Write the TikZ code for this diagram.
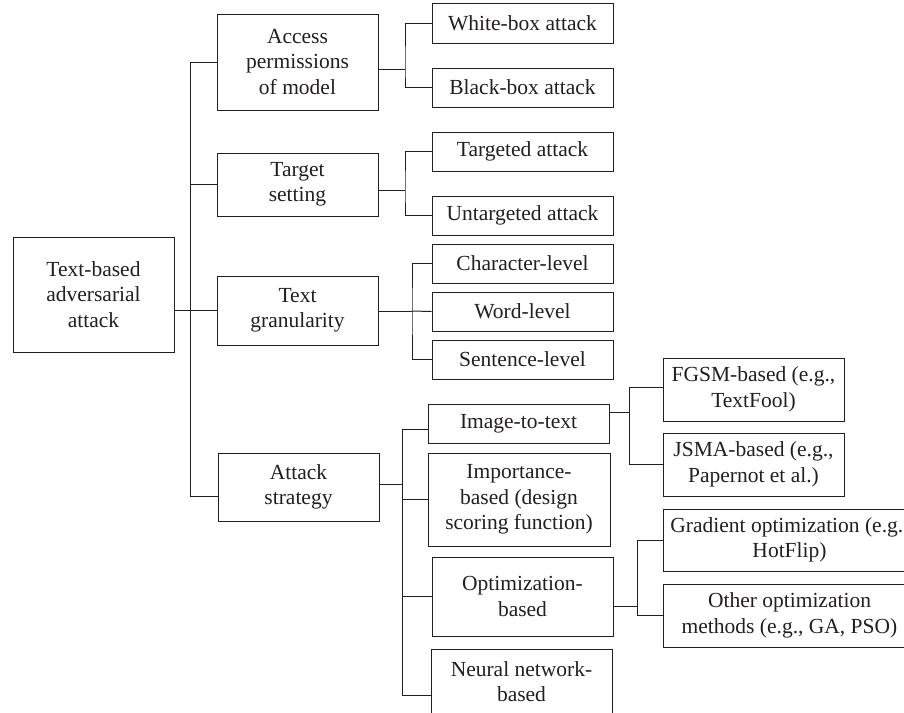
\documentclass[tikz,border=0pt]{standalone}
\usepackage{fontspec}
\setmainfont{Liberation Serif}
\definecolor{lc}{HTML}{231F20}
\newcommand{\mybox}[6]{\node[box,minimum width={#4pt-#2pt},minimum height={#5pt-#3pt}] (#1) at ({(#2+#4)/2},{(#3+#5)/2}) {#6};}
\begin{document}
\begin{tikzpicture}[x=1pt,y=-1pt,
  box/.style={draw=lc, line width=1pt, align=center, inner sep=0pt, text=lc,
    font=\fontsize{21.5}{25.5}\selectfont},
  conn/.style={draw=lc, line width=1pt}]
\useasboundingbox (0,0) rectangle (904,712);
\clip (0,0) rectangle (904,712);
\fill[white] (0,0) rectangle (904,712);
% boxes
\mybox{root}{13}{237}{174}{352}{Text-based\\adversarial\\attack}
\mybox{access}{217}{14}{378}{110}{Access\\permissions\\of model}
\mybox{tset}{217}{153}{378}{216}{Target\\setting}
\mybox{tg}{217}{276}{378}{345}{Text\\granularity}
\mybox{as}{218}{453}{379}{521}{Attack\\strategy}
\mybox{wb}{432}{3}{613}{43}{White-box attack}
\mybox{bb}{432}{68}{613}{107}{Black-box attack}
\mybox{ta}{432}{132}{613}{171}{Targeted attack}
\mybox{ua}{432}{196}{613}{235}{Untargeted attack}
\mybox{cl}{432}{244}{613}{283}{Character-level}
\mybox{wl}{432}{292}{613}{331}{Word-level}
\mybox{sl}{432}{340}{613}{379}{Sentence-level}
\mybox{it}{428}{404}{609}{443}{Image-to-text}
\mybox{imp}{428}{453}{610}{546}{Importance-\\based (design\\scoring function)}
\mybox{opt}{432}{557}{613}{636}{Optimization-\\based}
\mybox{nn}{431}{649}{612}{714}{Neural network-\\based}
\mybox{fg}{663}{358}{844}{421}{FGSM-based (e.g.,\\TextFool)}
\mybox{js}{663}{433}{844}{496}{JSMA-based (e.g.,\\Papernot et al.)}
\mybox{gr}{663}{509}{916}{571}{Gradient optimization (e.g.,\\HotFlip)}
\mybox{ot}{663}{584}{916}{647}{Other optimization\\methods (e.g., GA, PSO)}
% trunk
\coordinate (trunkTop) at (190,62);
\coordinate (trunkBot) at (190,496);
\draw[conn] (trunkTop) -- (trunkBot);
\draw[conn] (trunkTop) -- (trunkTop -| access.west);
\draw[conn] (tset.west) -- (tset.west -| trunkTop);
\draw[conn] (root.east |- tg.west) -- (tg.west);
\draw[conn] (trunkBot) -- (trunkBot -| as.west);
% access
\coordinate (a1) at (405,69);
\draw[conn] (access.east |- a1) -- (a1);
\draw[conn] (wb.west) -| (a1) |- (bb.west);
% target
\coordinate (t1) at (405,190);
\draw[conn] (tset.east |- t1) -- (t1);
\draw[conn] (ta.west) -| (t1) |- (ua.west);
% granularity
\coordinate (g1) at (412,311);
\draw[conn] (tg.east |- g1) -- (g1);
\draw[conn] (cl.west) -| (g1) |- (sl.west);
\draw[conn] (g1) -- (wl.west);
% strategy
\coordinate (s1) at (402,484);
\coordinate (s0) at (402,429);
\coordinate (s5) at (402,695);
\draw[conn] (as.east |- s1) -- (s1);
\draw[conn] (s0) -- (s5);
\draw[conn] (s0) -- (s0 -| it.west);
\draw[conn] (imp.west) -- (imp.west -| s0);
\draw[conn] (opt.west) -- (opt.west -| s0);
\draw[conn] (s5) -- (s5 -| nn.west);
% image-to-text
\coordinate (i1) at (629,412);
\coordinate (i0) at (629,387);
\coordinate (i2) at (629,464);
\draw[conn] (it.east |- i1) -- (i1);
\draw[conn] (i0 -| fg.west) -- (i0) -- (i2) -- (i2 -| js.west);
% optimization
\coordinate (o1) at (637,606);
\draw[conn] (opt.east |- o1) -- (o1);
\draw[conn] (gr.west) -| (o1) |- (ot.west);
\end{tikzpicture}
\end{document}
